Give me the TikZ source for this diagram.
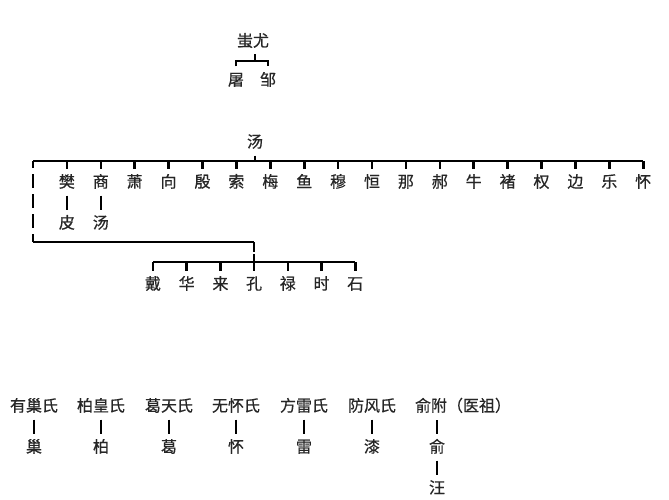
\documentclass[tikz,border=0pt]{standalone}
\usepackage{fontspec}
\newfontfamily\cjk[FakeBold=0.6]{Noto Sans CJK SC}
\usetikzlibrary{positioning}
\usetikzlibrary{calc}

\begin{document}
\begin{tikzpicture}[x=1pt, y=-1pt,
  xing/.style={font=\cjk\fontsize{16}{16}\selectfont, text=black!85, inner sep=0pt, outer sep=6pt, text height=13pt, text depth=2pt},
  link/.style={line width=2.6pt}]
 \useasboundingbox (0,0) rectangle (669,500);

 %level 0
 \node[xing] (chiyou) at (253,41) {蚩尤};
 \node[xing] (tu) at (236,80) {屠};
 \node[xing] (zou) at (268,80) {邹};
 \coordinate (chiyoubar) at (255,61);
 \draw[link] (chiyou.south -| chiyoubar) -- (chiyoubar);
 \draw[link] (tu.north) |- (zou.north |- chiyoubar) -- (zou.north);

 %level 1
 \node[xing] (tang) at (255,142) {汤};
 \coordinate (tangbar) at (255,161);
 \coordinate (fork) at (33,161);
 \draw[link] (tang.south) -- (tangbar);
 \def\dx{33.9}
 \foreach \i/\nm in {1/樊, 2/商, 3/萧, 4/向, 5/殷, 6/索, 7/梅, 8/鱼, 9/穆, 10/恒, 11/那, 12/郝, 13/牛, 14/褚, 15/权, 16/边, 17/乐, 18/怀} {
   \node[xing] (s\i) at (33+\i*\dx,182) {\nm};
   \draw[link] (s\i.north) -- (s\i.north |- tangbar);
 }
 \draw[link] (fork) -- (s18.north |- fork);

 \node[xing] (pi) at (s1 |- 0,223) {皮};
 \node[xing] (tang2) at (s2 |- 0,223) {汤};
 \draw[link] (s1.south) -- (pi.north);
 \draw[link] (s2.south) -- (tang2.north);

 %level 2
 \coordinate (bend) at (33,242);
 \coordinate (kongbar) at (254,262);
 \draw[link, dash pattern=on 14pt off 6pt, dash phase=7pt] (fork) -- (bend);
 \draw[link] (bend) -- (bend -| kongbar);
 \draw[link, dash pattern=on 10pt off 2pt] (bend -| kongbar) -- (kongbar);
 \def\dx{33.7}
 \foreach \i/\nm in {1/戴, 2/华, 3/来, 4/孔, 5/禄, 6/时, 7/石} {
   \node[xing] (k\i) at (153+\i*\dx-\dx,284) {\nm};
   \draw[link] (k\i.north) -- (k\i.north |- kongbar);
 }
 \draw[link] (k1.north |- kongbar) -- (k7.north |- kongbar);

 %level 3
 \foreach \i/\a/\b/\x in {1/有巢氏/巢/34, 2/柏皇氏/柏/101, 3/葛天氏/葛/169, 4/无怀氏/怀/236, 5/方雷氏/雷/304, 6/防风氏/漆/372} {
   \node[xing] (shi\i) at (\x,406) {\a};
   \node[xing] (zi\i) at (\x,447) {\b};
   \draw[link] (shi\i.south) -- (zi\i.north);
 }
 \node[xing] (yufu) at (431,406) {俞附};
 \node[xing, right=-12pt of yufu] (yizu) {（医祖）};
 \node[xing] (yu) at (437,447) {俞};
 \node[xing] (wang) at (437,488) {汪};
 \draw[link] (yu.north) -- (yu.north |- yufu.south);
 \draw[link] (yu.south) -- (wang.north);

\end{tikzpicture}
\end{document}
